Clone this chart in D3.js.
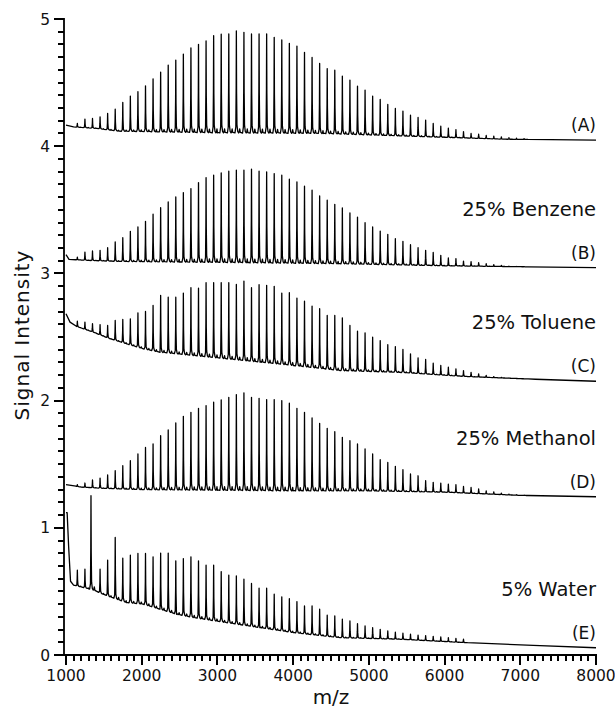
<!DOCTYPE html>
<html>
<head>
<meta charset="utf-8">
<script src="https://cdn.jsdelivr.net/npm/d3@7"></script>
<style>
  html, body { margin: 0; padding: 0; background: #fff; }
  svg text { font-family: "DejaVu Sans", Verdana, sans-serif; fill: #111; }
</style>
</head>
<body>
<div id="chart"></div>
<script>
// peak centres (m/z), shared by all five spectra
var peakMz = [1150, 1250, 1350, 1450, 1550, 1650, 1750, 1850, 1950, 2050,
	2150, 2250, 2350, 2450, 2550, 2650, 2750, 2850, 2950, 3050,
	3150, 3250, 3350, 3450, 3550, 3650, 3750, 3850, 3950, 4050,
	4150, 4250, 4350, 4450, 4550, 4650, 4750, 4850, 4950, 5050,
	5150, 5250, 5350, 5450, 5550, 5650, 5750, 5850, 5950, 6050,
	6150, 6250, 6350, 6450, 6550, 6650, 6750, 6850, 6950, 7050];

// peak tops (signal units, already offset)
var topsA = [4.179, 4.213, 4.218, 4.231, 4.257, 4.291, 4.344, 4.394, 4.428, 4.475,
	4.530, 4.583, 4.638, 4.677, 4.724, 4.772, 4.801, 4.827, 4.869, 4.880,
	4.882, 4.906, 4.895, 4.882, 4.882, 4.882, 4.856, 4.835, 4.809, 4.787,
	4.738, 4.698, 4.651, 4.610, 4.598, 4.551, 4.520, 4.472, 4.441, 4.394,
	4.368, 4.328, 4.297, 4.276, 4.244, 4.226, 4.205, 4.179, 4.157, 4.142,
	4.131, 4.115, 4.100, 4.094, 4.084, 4.079, 4.073, 4.068, 4.063, 4.060];
var topsB = [3.128, 3.168, 3.176, 3.181, 3.202, 3.247, 3.281, 3.331, 3.365, 3.409,
	3.465, 3.517, 3.562, 3.601, 3.635, 3.667, 3.714, 3.753, 3.772, 3.790,
	3.803, 3.811, 3.811, 3.819, 3.803, 3.798, 3.785, 3.772, 3.740, 3.719,
	3.685, 3.654, 3.609, 3.575, 3.543, 3.514, 3.475, 3.443, 3.399, 3.365,
	3.333, 3.307, 3.273, 3.252, 3.226, 3.202, 3.181, 3.165, 3.142, 3.121,
	3.116, 3.097, 3.092, 3.084, 3.076, 3.068, 3.063, 3.057, 3.055, 3.053];
var topsC = [2.624, 2.617, 2.604, 2.598, 2.591, 2.630, 2.638, 2.643, 2.690, 2.701,
	2.748, 2.827, 2.813, 2.813, 2.845, 2.887, 2.884, 2.927, 2.927, 2.927,
	2.927, 2.913, 2.940, 2.887, 2.911, 2.906, 2.898, 2.845, 2.848, 2.806,
	2.782, 2.743, 2.722, 2.669, 2.669, 2.651, 2.591, 2.546, 2.533, 2.498,
	2.472, 2.439, 2.425, 2.402, 2.368, 2.336, 2.323, 2.294, 2.276, 2.262,
	2.250, 2.236, 2.222, 2.210, 2.199, 2.189, 2.183, 2.178, 2.173, 2.168];
var topsD = [1.339, 1.352, 1.376, 1.391, 1.415, 1.449, 1.488, 1.528, 1.580, 1.632,
	1.659, 1.724, 1.769, 1.824, 1.876, 1.908, 1.939, 1.961, 1.987, 2.006,
	2.026, 2.047, 2.061, 2.026, 2.018, 2.008, 2.008, 2.000, 1.979, 1.939,
	1.908, 1.864, 1.821, 1.782, 1.756, 1.711, 1.685, 1.659, 1.620, 1.580,
	1.535, 1.514, 1.483, 1.457, 1.423, 1.409, 1.370, 1.357, 1.352, 1.344,
	1.339, 1.325, 1.317, 1.305, 1.291, 1.283, 1.273, 1.265, 1.260, 1.257];
var topsE = [0.667, 0.675, null, 0.675, 0.746, 0.924, 0.761, 0.785, 0.798, 0.798,
	0.772, 0.801, 0.801, 0.740, 0.758, 0.772, 0.740, 0.706, 0.706, 0.656,
	0.628, 0.622, 0.596, 0.562, 0.525, 0.525, 0.478, 0.457, 0.443, 0.420,
	0.386, 0.386, 0.360, 0.313, 0.307, 0.281, 0.268, 0.246, 0.228, 0.215,
	0.202, 0.189, 0.179, 0.171, 0.163, 0.157, 0.152, 0.147, 0.142, 0.136,
	0.131, 0.124, null, null, null, null, null, null, null, null];
// extra peaks only seen in the water spectrum [m/z, top]
var extraE = [[1330, 1.252]];

// baselines [m/z, signal]
var baseA = [[1000, 4.165], [1100, 4.152], [1400, 4.14], [1700, 4.118], [2200, 4.113],
	[3000, 4.105], [4400, 4.10], [5200, 4.085], [6000, 4.07], [6800, 4.055], [8000, 4.047]];
var baseB = [[1000, 3.147], [1040, 3.11], [1300, 3.102], [1700, 3.094], [2500, 3.089],
	[3400, 3.084], [4600, 3.076], [6000, 3.06], [8000, 3.045]];
var baseC = [[1000, 2.683], [1053, 2.617], [1141, 2.583], [1361, 2.538], [1581, 2.486],
	[1802, 2.446], [2021, 2.407], [2241, 2.38], [2681, 2.354], [3123, 2.328],
	[3563, 2.302], [4003, 2.276], [4620, 2.236], [5400, 2.222], [6300, 2.189],
	[7200, 2.168], [8000, 2.152]];
var baseD = [[1000, 1.34], [1200, 1.32], [1500, 1.31], [2000, 1.30], [3000, 1.295],
	[4000, 1.29], [5000, 1.29], [6000, 1.28], [7000, 1.255], [8000, 1.244]];
var baseE = [[1000, 1.12], [1015, 1.12], [1035, 0.85], [1060, 0.58], [1100, 0.55],
	[1300, 0.52], [1360, 0.51], [1490, 0.478], [1580, 0.457], [1800, 0.412],
	[2020, 0.399], [2240, 0.36], [2460, 0.32], [2680, 0.294], [3120, 0.254],
	[3560, 0.215], [4000, 0.176], [4620, 0.136], [5410, 0.124], [6290, 0.097],
	[7170, 0.076], [8000, 0.057]];

var letterLabels = ["(A)", "(B)", "(C)", "(D)", "(E)"];
var solventLabels = ["", "25% Benzene", "25% Toluene", "25% Methanol", "5% Water"];

var xMajor = [1000, 2000, 3000, 4000, 5000, 6000, 7000, 8000];
var yMajor = [0, 1, 2, 3, 4, 5];

var spectra = [
	{ tops: topsA, base: baseA, extra: [] },
	{ tops: topsB, base: baseB, extra: [] },
	{ tops: topsC, base: baseC, extra: [] },
	{ tops: topsD, base: baseD, extra: [] },
	{ tops: topsE, base: baseE, extra: extraE }
];

var W = 615, H = 710;

var svg = d3.select("#chart")
	.append("svg")
	.attr("width", W)
	.attr("height", H);

var x = d3.scaleLinear().domain([1000, 8000]).range([66, 596]);
var y = d3.scaleLinear().domain([0, 5]).range([655, 19]);
var axisX = 64, axisY = 655;

// ticks first, as plain filled rects
var xTicks = d3.range(1000, 8001, 100);
var yTicks = d3.range(0, 51).map(v => v / 10);
var isMajorX = d => d % 1000 == 0;
var isMajorY = d => Math.abs(d - Math.round(d)) < 1e-6;

var tickG = svg.append("g").attr("class", "ticks");

tickG.selectAll("rect.xt")
	.data(xTicks)
	.join("rect")
	.attr("class", "xt")
	.attr("x", d => Math.round(x(d)) - 1)
	.attr("y", axisY)
	.attr("width", 2)
	.attr("height", d => isMajorX(d) ? 10 : 6)
	.attr("fill", "#000");

tickG.selectAll("rect.yt")
	.data(yTicks)
	.join("rect")
	.attr("class", "yt")
	.attr("x", d => axisX - (isMajorY(d) ? 10 : 6))
	.attr("y", d => Math.round(y(d)) - 1)
	.attr("width", d => isMajorY(d) ? 10 : 6)
	.attr("height", 2)
	.attr("fill", "#000");

// shape of one spike: [m/z offset, fraction of peak height]
var spikeShape = [[-18, 0], [-7, 0.06], [-2.5, 0.45], [0, 1], [3, 0.4], [8, 0.08], [18, 0.015], [30, 0],
	[38, 0.01], [44, 0.04], [52, 0.005]];

function buildPoints(s) {
	var baseAt = d3.scaleLinear()
		.domain(s.base.map(d => d[0]))
		.range(s.base.map(d => d[1]))
		.clamp(true);
	var pts = s.base.slice();
	var peaks = [];
	s.tops.forEach((t, i) => { if (t != null) peaks.push([peakMz[i], t]); });
	s.extra.forEach(p => peaks.push(p));
	peaks.forEach(p => {
		var h = Math.max(0, p[1] - baseAt(p[0]));
		spikeShape.forEach(o => {
			var m = p[0] + o[0];
			pts.push([m, baseAt(m) + o[1] * h]);
		});
	});
	pts.sort((a, b) => a[0] - b[0]);
	return pts;
}

var line = d3.line()
	.x(d => x(d[0]))
	.y(d => y(d[1]));

svg.append("g")
	.selectAll("path")
	.data(spectra)
	.join("path")
	.attr("d", d => line(buildPoints(d)))
	.attr("fill", "none")
	.attr("stroke", "#000")
	.attr("stroke-width", 1.3)
	.attr("stroke-linejoin", "round");

// axis lines
svg.append("path")
	.attr("fill", "none")
	.attr("stroke", "#000")
	.attr("stroke-width", 1.8)
	.attr("d", "M" + axisX + "," + (y(5) - 1) + "V" + axisY + "H" + (Math.round(x(8000)) + 1));

svg.append("g")
	.selectAll("text")
	.data(xMajor)
	.join("text")
	.attr("x", d => x(d))
	.attr("y", axisY + 26)
	.attr("text-anchor", "middle")
	.style("font-size", "15.5px")
	.text(d => d);

svg.append("g")
	.selectAll("text")
	.data(yMajor)
	.join("text")
	.attr("x", axisX - 14)
	.attr("y", d => y(d))
	.attr("dy", "0.36em")
	.attr("text-anchor", "end")
	.style("font-size", "15.5px")
	.text(d => d);

// axis titles
svg.append("text")
	.attr("x", 331)
	.attr("y", 704)
	.attr("text-anchor", "middle")
	.style("font-size", "20px")
	.text("m/z");

svg.append("text")
	.attr("transform", "translate(29,335) rotate(-90)")
	.attr("text-anchor", "middle")
	.style("font-size", "20px")
	.style("letter-spacing", "1px")
	.text("Signal Intensity");

// trace labels
spectra.forEach((s, i) => {
	var endY = y(s.base[s.base.length - 1][1]);
	svg.append("text")
		.attr("x", 596)
		.attr("y", endY - 9)
		.attr("text-anchor", "end")
		.style("font-size", "17px")
		.text(letterLabels[i]);
	if (solventLabels[i]) {
		svg.append("text")
			.attr("x", 596)
			.attr("y", endY - 52)
			.attr("text-anchor", "end")
			.style("font-size", "19.5px")
			.text(solventLabels[i]);
	}
});
</script>
</body>
</html>
